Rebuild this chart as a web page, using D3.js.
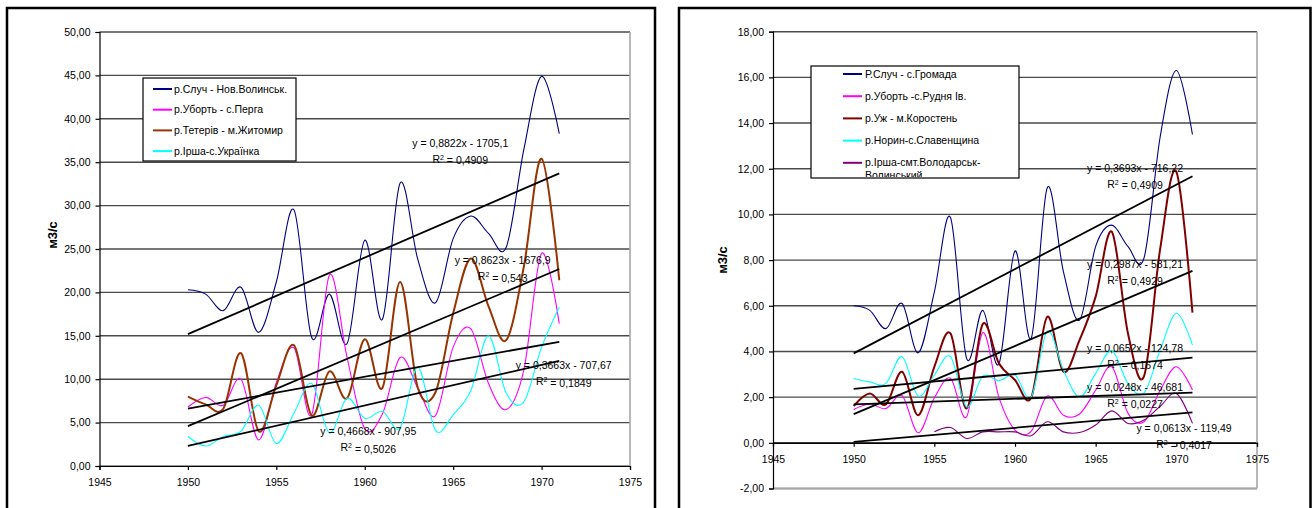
<!DOCTYPE html>
<html><head><meta charset="utf-8">
<script src="https://cdn.jsdelivr.net/npm/d3@7"></script>
<style>
html,body{margin:0;padding:0;background:#fff;}
svg text{font-family:"Liberation Sans",Arial,sans-serif;fill:#000;}
</style></head>
<body>
<svg id="c" width="1314" height="508"></svg>
<script>
// ---------- DATA ----------
const years = [1950,1951,1952,1953,1954,1955,1956,1957,1958,1959,1960,1961,1962,1963,1964,1965,1966,1967,1968,1969,1970,1971];
const xTicks = [1945,1950,1955,1960,1965,1970,1975];

// Left chart
const leftYTicks = [0,5,10,15,20,25,30,35,40,45,50];
const leftNames = ["р.Случ - Нов.Волинськ.","р.Уборть - с.Перга","р.Тетерів - м.Житомир","р.Ірша-с.Українка"];
const leftSluch  = [20.3,19.8,17.9,20.6,15.4,21.2,29.5,14.8,19.8,14.1,26.0,16.9,32.6,23.8,18.8,26.2,28.8,26.8,25.2,36.5,44.9,38.3];
const leftUborth = [6.8,7.9,7.0,10.0,3.0,9.6,13.6,5.9,22.0,12.5,4.3,6.0,12.5,9.0,5.8,13.7,15.8,9.5,6.5,11.1,24.5,16.4];
const leftTeteriv= [8.0,7.1,6.6,13.0,4.0,9.3,13.9,5.8,10.9,7.8,14.6,9.0,21.2,9.0,8.5,17.6,23.9,18.4,14.5,23.0,35.4,21.4];
const leftIrsha  = [3.4,2.3,3.4,4.0,7.0,2.6,6.1,9.5,3.8,7.8,5.5,6.3,4.4,11.4,4.1,5.9,8.7,15.0,8.4,7.4,13.7,18.3];
const leftSlopes     = [0.8822,0.3663,0.8623,0.4668];
const leftIntercepts = [-1705.1,-707.67,-1676.9,-907.95];
const leftEqText = ["y = 0,8822x - 1705,1","y = 0,3663x - 707,67","y = 0,8623x - 1676,9","y = 0,4668x - 907,95"];
const leftR2Text = ["0,4909","0,1849","0,543","0,5026"];
const leftLabelAt = [[1965.4,37.2],[1971.25,11.6],[1967.8,23.7],[1960.2,4.0]];

// Right chart
const rightYTicks = [-2,0,2,4,6,8,10,12,14,16,18];
const rightNames = ["Р.Случ - с.Громада","р.Уборть -с.Рудня Ів.","р.Уж - м.Коростень","р.Норин-с.Славенщина","р.Ірша-смт.Володарськ-Волинський"];
const rightSluch  = [6.0,5.8,5.0,6.1,3.94,6.6,9.87,3.7,5.8,3.45,8.4,4.57,11.17,7.5,5.37,8.6,9.53,8.6,8.1,13.4,16.3,13.5];
const rightUborth = [1.46,1.7,1.5,2.06,0.44,1.96,2.83,1.14,4.82,2.0,0.56,0.5,2.05,1.21,1.26,2.3,3.33,1.3,0.92,2.3,3.33,2.31];
const rightUzh    = [1.61,2.16,1.68,3.11,1.21,3.33,4.79,1.5,5.2,3.48,2.75,1.97,5.52,3.11,4.5,6.4,9.24,4.8,2.92,8.5,11.87,5.7];
const rightNoryn  = [2.82,2.67,2.6,3.77,2.05,2.97,3.77,1.58,2.92,2.72,2.97,2.0,4.9,3.18,2.0,3.04,4.03,2.6,2.19,4.06,5.67,4.28];
const rightIrsha  = [null,null,null,null,null,0.48,0.67,0.19,0.48,0.48,0.48,0.31,0.92,0.48,0.45,0.78,1.4,0.85,1.0,1.6,2.16,0.85];
const rightSlopes     = [0.3693,0.0248,0.2987,0.0652,0.0613];
const rightIntercepts = [-716.22,-46.681,-581.21,-124.78,-119.49];
const rightEqText = ["y = 0,3693x - 716,22","y = 0,0248x - 46,681","y = 0,2987x - 581,21","y = 0,0652x - 124,78","y = 0,0613x - 119,49"];
const rightR2Text = ["0,4909","0,0227","0,4929","0,1674","0,4017"];
const rightLabelAt = [[1967.44,12.03],[1967.44,2.44],[1967.44,7.82],[1967.44,4.15],[1970.48,0.64]];

// ---------- DRAW ----------
const svg = d3.select("#c");
const fmt = v => d3.format(".2f")(v).replace(".", ",").replace("−","-");
const FS = 10.5;

function panel(o){
  const g = svg.append("g");
  // outer frame
  g.append("rect").attr("x",o.frame[0]).attr("y",o.frame[1]).attr("width",o.frame[2]-o.frame[0]).attr("height",540)
    .attr("fill","none").attr("stroke","#000").attr("stroke-width",2.5);
  const x = d3.scaleLinear().domain([1945,1975]).range(o.xr);
  const y = d3.scaleLinear().domain(o.yd).range(o.yr);
  // gridlines
  g.append("g").selectAll("line").data(o.yTicks).join("line")
    .attr("x1",o.xr[0]).attr("x2",o.xr[1]).attr("y1",d=>y(d)).attr("y2",d=>y(d))
    .attr("stroke","#4a4a4a").attr("stroke-width",1.4);
  // right border & bottom border
  g.append("line").attr("x1",o.xr[1]).attr("x2",o.xr[1]).attr("y1",o.yr[1]).attr("y2",o.yr[0])
    .attr("stroke","#a6a6a6").attr("stroke-width",1.6);
  g.append("line").attr("x1",o.xr[0]).attr("x2",o.xr[1]).attr("y1",o.yr[0]).attr("y2",o.yr[0])
    .attr("stroke","#a6a6a6").attr("stroke-width",1.6);
  // y axis
  const ya = g.append("g").attr("transform",`translate(${o.xr[0]},0)`)
    .call(d3.axisLeft(y).tickValues(o.yTicks).tickFormat(fmt).tickSize(4).tickPadding(5));
  ya.select(".domain").attr("stroke","#000").attr("stroke-width",1.2);
  ya.selectAll(".tick line").attr("stroke","#000").attr("stroke-width",1.2);
  ya.selectAll("text").style("font-size",FS+"px").attr("fill","#000").style("font-family","Liberation Sans, Arial, sans-serif");
  // x axis
  const xa = g.append("g").attr("transform",`translate(0,${y(0)})`)
    .call(d3.axisBottom(x).tickValues(xTicks).tickFormat(d3.format("d")).tickSize(4).tickPadding(9));
  xa.select(".domain").attr("stroke","#000").attr("stroke-width",1.2);
  xa.selectAll(".tick line").attr("stroke","#000").attr("stroke-width",1.2);
  xa.selectAll("text").style("font-size",FS+"px").attr("fill","#000").style("font-family","Liberation Sans, Arial, sans-serif");
  // y title
  g.append("text").attr("transform",`translate(${o.titleX},${o.titleY}) rotate(-90)`)
    .attr("text-anchor","middle").attr("dy","0.35em").style("font-size","13px").style("font-weight","bold").text("м3/с");
  // series
  const line = d3.line().defined(d=>d[1]!=null).x(d=>x(d[0])).y(d=>y(d[1])).curve(d3.curveCardinal.tension(0));
  o.series.forEach(s=>{
    g.append("path").datum(years.map((yr,i)=>[yr,s.values[i]]))
      .attr("d",line).attr("fill","none").attr("stroke",s.color).attr("stroke-width",s.w);
  });
  // trends
  o.slopes.forEach((m,i)=>{
    const b = o.intercepts[i];
    const x0 = years[0], x1 = years[years.length-1];
    g.append("line").attr("x1",x(x0)).attr("y1",y(m*x0+b)).attr("x2",x(x1)).attr("y2",y(m*x1+b))
      .attr("stroke","#000").attr("stroke-width",1.8);
  });
  o.slopes.forEach((m,i)=>{
    const p = o.labelAt[i];
    const cx = x(p[0]), cy = y(p[1]);
    g.append("text").attr("x",cx).attr("y",cy).attr("dy","0.35em").attr("text-anchor","middle")
      .style("font-size",FS+"px").text(o.eqText[i]);
    const t = g.append("text").attr("x",cx).attr("y",cy+16).attr("dy","0.35em").attr("text-anchor","middle")
      .style("font-size",FS+"px");
    t.append("tspan").text("R");
    t.append("tspan").attr("dy","-0.45em").style("font-size","7px").text("2");
    t.append("tspan").attr("dy","0.45em").text(" = "+o.r2Text[i]);
  });
  // legend
  const L = o.legend;
  const lg = g.append("g");
  lg.append("rect").attr("x",L.x).attr("y",L.y).attr("width",L.w).attr("height",L.h)
    .attr("fill","#fff").attr("stroke","#000").attr("stroke-width",1.2);
  const clipId = "clip"+o.id;
  svg.append("clipPath").attr("id",clipId).append("rect").attr("x",L.x).attr("y",L.y).attr("width",L.w).attr("height",L.h-1);
  const items = lg.append("g").attr("clip-path",`url(#${clipId})`);
  o.names.forEach((n,i)=>{
    const yy = L.y0 + i*L.step;
    items.append("line").attr("x1",L.lx0).attr("x2",L.lx1).attr("y1",yy).attr("y2",yy)
      .attr("stroke",o.series[i].color).attr("stroke-width",2);
    if (L.wrap && i===o.names.length-1){
      const parts = ["р.Ірша-смт.Володарськ-","Волинський"];
      const t = items.append("text").attr("x",L.tx).attr("y",yy).attr("dy","0.35em").style("font-size",FS+"px");
      t.append("tspan").attr("x",L.tx).text(parts[0]);
      t.append("tspan").attr("x",L.tx).attr("dy","1.15em").text(parts[1]);
    } else {
      items.append("text").attr("x",L.tx).attr("y",yy).attr("dy","0.35em").style("font-size",FS+"px").text(n);
    }
  });
}

panel({
  id:"L", frame:[7,8,655], xr:[99.5,630], yd:[0,50], yr:[466,32], yTicks:leftYTicks,
  titleX:52, titleY:235,
  series:[{values:leftSluch,color:"#000080",w:1.1},{values:leftUborth,color:"#ff00ff",w:1.1},
          {values:leftTeteriv,color:"#993300",w:2},{values:leftIrsha,color:"#00ffff",w:1.1}],
  slopes:leftSlopes, intercepts:leftIntercepts, eqText:leftEqText, r2Text:leftR2Text, labelAt:leftLabelAt,
  names:leftNames,
  legend:{x:143,y:78,w:153,h:83,y0:89,step:20.7,lx0:153,lx1:172,tx:174}
});
panel({
  id:"R", frame:[679,8,1310.5], xr:[773,1257], yd:[-2,18], yr:[488.5,31.7], yTicks:rightYTicks,
  titleX:722, titleY:260,
  series:[{values:rightSluch,color:"#000080",w:1.1},{values:rightUborth,color:"#ff00ff",w:1.1},
          {values:rightUzh,color:"#800000",w:2},{values:rightNoryn,color:"#00ffff",w:1.1},
          {values:rightIrsha,color:"#800080",w:1.1}],
  slopes:rightSlopes, intercepts:rightIntercepts, eqText:rightEqText, r2Text:rightR2Text, labelAt:rightLabelAt,
  names:rightNames,
  legend:{x:811,y:66,w:208,h:112,y0:74,step:22.2,lx0:843,lx1:862,tx:865,wrap:true}
});
</script>
</body></html>
